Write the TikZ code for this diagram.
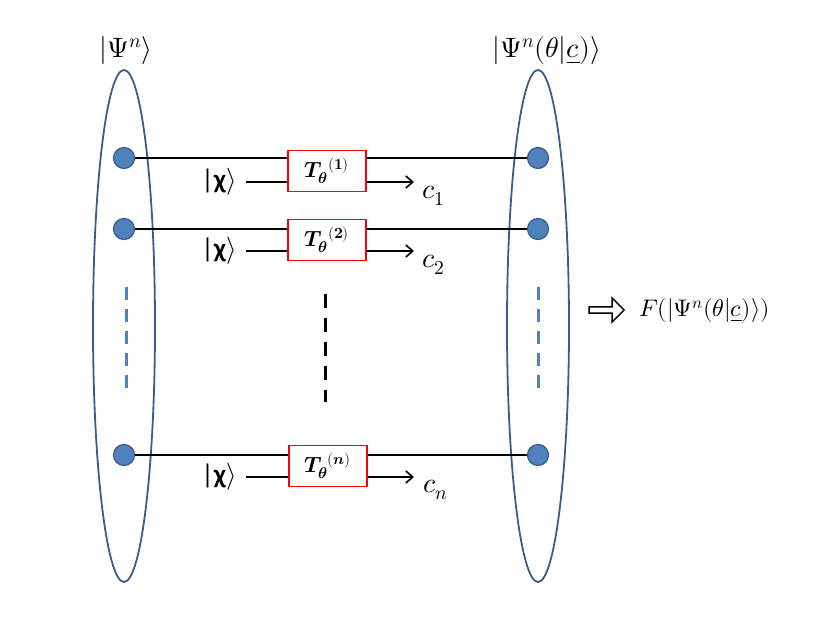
\documentclass[tikz,border=0pt]{standalone}
\usepackage{fontspec}
\usepackage{unicode-math}
\setmathfont{Latin Modern Math}
\newfontfamily\carl{Carlito}
\usetikzlibrary{shapes.geometric,shapes.arrows,arrows.meta}
\definecolor{ellb}{HTML}{385D8A}
\definecolor{dotf}{HTML}{4F81BD}
\newcommand{\fsz}[2]{\fontsize{#1}{#2}\selectfont}
\tikzset{
  ell/.style={ellipse, draw=ellb, line width=1.8pt, minimum width=62pt, minimum height=512pt, inner sep=0pt},
  dot/.style={circle, fill=dotf, draw=ellb, line width=1.2pt, minimum size=21pt, inner sep=0pt},
  gate/.style={draw=red, line width=1.9pt, minimum width=78pt, minimum height=41pt, inner sep=0pt, font=\fsz{22}{26}},
  wire/.style={line width=1.6pt},
  carrow/.style={line width=1.6pt, -{Straight Barb[length=7pt,width=12pt,line width=1.6pt]}},
  lbl/.style={font=\fsz{28}{32}, inner sep=0pt},
  chil/.style={font=\fsz{27}{30}\carl, inner sep=0pt},
  bdash/.style={dotf, line width=3pt, dash pattern=on 13pt off 9pt},
  kdash/.style={black, line width=3pt, dash pattern=on 14pt off 10pt},
}
\newcommand{\Tg}[1]{$\symbfit{T}_{\symbfit{\theta}}{}^{\symbf{(#1)}}$}
\newcommand{\Tgn}{$\symbfit{T}_{\symbfit{\theta}}{}^{\symbf{(}\symbfit{n}\symbf{)}}$}
\newcommand{\chik}{|\textbf{χ}$\rangle$}
\begin{document}
\begin{tikzpicture}[x=1pt,y=-1pt]
\useasboundingbox (0,0) rectangle (822,617);
% ellipses
\node[ell] (EL) at (124,326) {};
\node[ell] (ER) at (538,326) {};
% top labels
\node[lbl] (tl) at (126,51) {$|\Psi^n\rangle$};
\node[lbl] (tr) at (547,51) {$|\Psi^n(\theta|\underline{c})\rangle$};
% dots
\node[dot] (l1) at (124,158) {};
\node[dot] (l2) at (124,229) {};
\node[dot] (l3) at (124,455) {};
\node[dot] (r1) at (538,158) {};
\node[dot] (r2) at (538,229) {};
\node[dot] (r3) at (538,455) {};
% gates
\node[gate] (b1) at (327,171) {\Tg{1}};
\node[gate] (b2) at (327,240) {\Tg{2}};
\node[gate] (b3) at (328,466) {\Tgn};
% chi inputs
\node[chil] (x1) at (219,182) {\chik};
\node[chil] (x2) at (219,251) {\chik};
\node[chil] (x3) at (219,477) {\chik};
\coordinate (a1) at (246,182);
\coordinate (a2) at (246,251);
\coordinate (a3) at (246,477);
\coordinate (e1) at (414,182);
\coordinate (e2) at (414,251);
\coordinate (e3) at (414,477);
% outputs
\node[lbl] (c1) at (434,196) {$c_1$};
\node[lbl] (c2) at (434,265) {$c_2$};
\node[lbl] (c3) at (436,490) {$c_n$};
% wires
\draw[wire] (l1.east) -- (l1 -| b1.west);
\draw[wire] (b1.east |- l1) -- (r1.west);
\draw[wire] (l2.east) -- (l2 -| b2.west);
\draw[wire] (b2.east |- l2) -- (r2.west);
\draw[wire] (l3.east) -- (l3 -| b3.west);
\draw[wire] (b3.east |- l3) -- (r3.west);
\draw[wire] (a1) -- (a1 -| b1.west);
\draw[carrow] (a1 -| b1.east) -- (e1);
\draw[wire] (a2) -- (a2 -| b2.west);
\draw[carrow] (a2 -| b2.east) -- (e2);
\draw[wire] (a3) -- (a3 -| b3.west);
\draw[carrow] (a3 -| b3.east) -- (e3);
% dashes
\draw[bdash] (126,287) -- (126,394);
\draw[bdash] (538,287) -- (538,394);
\draw[kdash] (325,294) -- (325,402);
% result
\node[single arrow, draw=black, fill=white, line width=1.5pt, minimum height=35pt, minimum width=24pt, single arrow head extend=5pt, inner sep=1pt] (ar) at (605,310) {};
\node[font=\fsz{24}{28}, anchor=west, inner sep=0pt] (F) at (639,311) {$F(|\Psi^n(\theta|\underline{c})\rangle)$};
\end{tikzpicture}
\end{document}
